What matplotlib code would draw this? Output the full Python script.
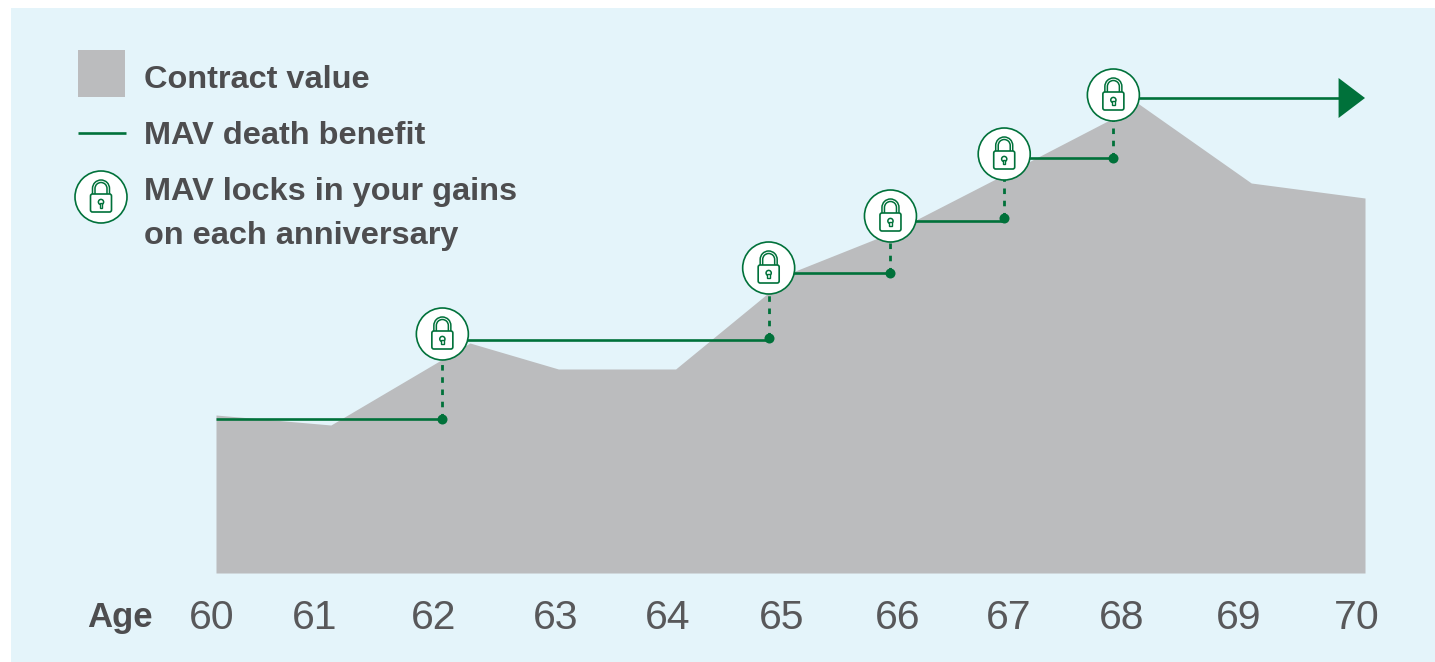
import matplotlib
matplotlib.use("Agg")
import matplotlib.pyplot as plt
import numpy as np
from matplotlib.patches import Rectangle, Circle, FancyBboxPatch, PathPatch, Polygon
from matplotlib.path import Path
from matplotlib.transforms import Affine2D, ScaledTranslation

# contract value outline (age, value)
contract_age = [60, 61.0, 62.21, 62.98, 64.0, 65.04, 65.87, 66.87, 67.81, 68.02, 69.01, 70]
contract_value = [158, 148, 230, 204, 204, 302, 340, 399, 455, 470, 390, 375]

# MAV steps: each level runs from one lock to the next
lock_age = [61.97, 64.81, 65.87, 66.86, 67.81]
lock_value = [239, 305, 357, 419, 478]
dot_value = [154, 235, 300, 355, 415]
step_start = [60, 61.97, 64.81, 65.87, 66.86, 67.81]
step_end = [61.97, 64.81, 65.87, 66.86, 67.81, 69.77]
step_level = [154, 233, 300, 352, 415, 475]

arrow_tip_age = 70

ages = ["60", "61", "62", "63", "64", "65", "66", "67", "68", "69", "70"]
age_ticks = [59.96, 60.86, 61.89, 62.96, 63.93, 64.92, 65.93, 66.9, 67.88, 68.9, 69.93]

GREEN = "#00713A"
GREY = "#BBBCBE"
PANEL = "#E4F4FA"
TEXT = "#4D4D4F"
W, H = 1435, 662

fig = plt.figure(figsize=(W / 100, H / 100), dpi=100, facecolor="white")
# axes start a little before age 60 so the 60 label stays inside the limits
ax = fig.add_axes([204.51 / W, (H - 573) / H, 1160.49 / W, 565 / H])
ax.patch.set_visible(False)
for s in ax.spines.values():
    s.set_visible(False)
ax.set_yticks([])

# pixel positions, y measured from the top of the picture
px = Affine2D().scale(1, -1).translate(0, H)
fig.add_artist(Rectangle((11, 8), W - 11, 654, transform=px, color=PANEL, lw=0, zorder=-5))


def draw_lock(base, z=6):
    """Draws the round lock badge around the origin of base, in pixels."""
    ax.add_patch(Circle((0, 0), 26, transform=base, fc="white", ec=GREEN, lw=1.2, zorder=z, clip_on=False))
    # double line shackle
    for r in (6, 8.5):
        arc = Path.arc(0, 180)
        verts = arc.vertices * r + [0, 8.5]
        verts = np.vstack([[r, 2], verts, [-r, 2]])
        codes = [Path.MOVETO, Path.LINETO] + list(arc.codes[1:]) + [Path.LINETO]
        ax.add_patch(PathPatch(Path(verts, codes), transform=base, fc="none", ec=GREEN, lw=1.1,
                               zorder=z + 1, clip_on=False))
    ax.add_patch(FancyBboxPatch((-10.5, -15), 21, 18, boxstyle="round,pad=0,rounding_size=2",
                                transform=base, fc="white", ec=GREEN, lw=1.2, zorder=z + 1, clip_on=False))
    ax.add_patch(Circle((0, -5), 2.6, transform=base, fc="white", ec=GREEN, lw=1.1, zorder=z + 2, clip_on=False))
    ax.add_patch(Rectangle((-1.2, -10.5), 2.4, 4.5, transform=base, fc="white", ec=GREEN, lw=1.0, zorder=z + 2, clip_on=False))


ax.fill_between(contract_age, contract_value, 0, color=GREY, lw=0, zorder=1)

for x0, x1, lv in zip(step_start, step_end, step_level):
    ax.plot([x0, x1], [lv, lv], color=GREEN, lw=1.9, solid_capstyle="butt", zorder=3)

# arrow head at the end of the last step
ax.add_patch(Polygon([(step_end[-1], step_level[-1] + 20), (arrow_tip_age, step_level[-1]),
                      (step_end[-1], step_level[-1] - 20)], fc=GREEN, ec="none", zorder=4, clip_on=False))

for a, lv, d in zip(lock_age, lock_value, dot_value):
    ax.plot([a, a], [d, lv], color=GREEN, lw=2.0, linestyle=(0, (2.0, 2.4)), zorder=3)
    ax.plot(a, d, "o", color=GREEN, ms=7.2, mew=0, zorder=4)
    draw_lock(ScaledTranslation(a, lv, ax.transData))

ax.set_xticks(age_ticks, ages)
ax.tick_params(axis="x", length=0, pad=19, labelsize=29.5, labelcolor="#58585A")
for lab in ax.get_xticklabels():
    lab.set_fontfamily("Liberation Sans")
ax.set_xlim(59.9, 70)
ax.set_ylim(0, 565)

# legend
fig.add_artist(Rectangle((78, 50), 47, 47, transform=px, color=GREY, lw=0))
fig.add_artist(plt.Line2D([78, 126], [133, 133], transform=px, color=GREEN, lw=1.9, solid_capstyle="butt"))
draw_lock(Affine2D().translate(101, H - 197))

bold = dict(transform=px, color=TEXT, fontsize=23.4, fontweight="bold", family="Liberation Sans", va="center", ha="left")
fig.text(144, 80, "Contract value", **bold)
fig.text(144, 136, "MAV death benefit", **bold)
fig.text(144, 192, "MAV locks in your gains", **bold)
fig.text(144, 236, "on each anniversary", **bold)
fig.text(120, 617, "Age", **{**bold, "ha": "center", "fontsize": 25})

fig.savefig("out.png", dpi=100)
